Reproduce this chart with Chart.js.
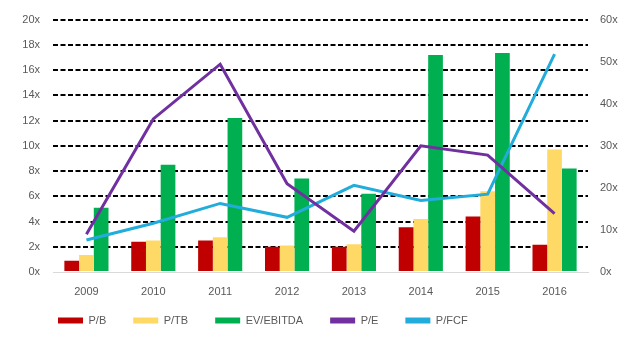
<!DOCTYPE html>
<html>
<head>
<meta charset="utf-8">
<script src="https://cdn.jsdelivr.net/npm/chart.js@4"></script>
<style>
  html, body { margin: 0; padding: 0; background: #fff; }
  #wrap { width: 640px; height: 345px; }
</style>
</head>
<body>
<div id="wrap"><canvas id="chart" width="640" height="345"></canvas></div>
<script>
const years = ['2009', '2010', '2011', '2012', '2013', '2014', '2015', '2016'];
const pb = [0.9, 2.4, 2.5, 2.0, 2.0, 3.55, 4.4, 2.15];
const ptb = [1.35, 2.5, 2.75, 2.1, 2.2, 4.2, 6.4, 9.7];
const evEbitda = [5.1, 8.5, 12.2, 7.4, 6.2, 17.2, 17.35, 8.2];
const pe = [9.0, 36.4, 49.4, 21.0, 9.7, 30.0, 27.8, 13.9];
const pfcf = [7.6, 11.6, 16.3, 13.0, 20.6, 17.0, 18.5, 51.8];

const gray = '#595959';
const tickFont = { family: 'Liberation Sans', size: 11 };

// put the legend row where the original has it (left-shifted, close under the axis)
const legendShift = {
    id: 'legendShift',
    afterLayout(chart) {
        const lg = chart.legend;
        lg.left = 31;
        lg.top = 288;
        lg.bottom = lg.top + lg.height;
    }
};

new Chart(document.getElementById('chart').getContext('2d'), {
    type: 'bar',
    data: {
        labels: years,
        datasets: [
            { label: 'P/B', data: pb, backgroundColor: '#C00000', yAxisID: 'y', order: 1 },
            { label: 'P/TB', data: ptb, backgroundColor: '#FFD966', yAxisID: 'y', order: 1 },
            { label: 'EV/EBITDA', data: evEbitda, backgroundColor: '#00B050', yAxisID: 'y', order: 1 },
            {
                type: 'line', label: 'P/E', data: pe, yAxisID: 'y1', order: 0,
                borderColor: '#7030A0', backgroundColor: '#7030A0',
                borderWidth: 3, pointRadius: 0, tension: 0, fill: false
            },
            {
                type: 'line', label: 'P/FCF', data: pfcf, yAxisID: 'y1', order: 0,
                borderColor: '#22ACDB', backgroundColor: '#22ACDB',
                borderWidth: 3, pointRadius: 0, tension: 0, fill: false
            }
        ]
    },
    options: {
        responsive: false,
        animation: false,
        layout: { padding: { top: 17, left: 0, right: 0, bottom: -2 } },
        datasets: {
            bar: { categoryPercentage: 0.66, barPercentage: 1.0 }
        },
        plugins: {
            tooltip: { enabled: false },
            legend: {
                position: 'bottom',
                align: 'start',
                labels: {
                    color: gray,
                    font: tickFont,
                    boxWidth: 25,
                    boxHeight: 6,
                    padding: 27,
                    sort: (a, b) => a.datasetIndex - b.datasetIndex,
                    generateLabels(chart) {
                        const items = Chart.defaults.plugins.legend.labels.generateLabels(chart);
                        items.forEach(it => { it.lineWidth = 0; });
                        return items;
                    }
                }
            }
        },
        scales: {
            x: {
                grid: { display: false, drawTicks: false },
                border: { display: true, color: '#D9D9D9', width: 1 },
                ticks: { color: gray, font: tickFont, padding: 13 },
                afterFit(scale) { scale.height = 27; }
            },
            y: {
                position: 'left',
                min: 0, max: 20,
                ticks: { stepSize: 2, color: gray, font: tickFont, padding: 13, callback: v => v + 'x' },
                grid: {
                    drawTicks: false,
                    color: ctx => ctx.tick && ctx.tick.value === 0 ? 'rgba(0,0,0,0)' : '#000',
                    lineWidth: 2
                },
                border: { display: false, dash: [5, 2.5] },
                afterFit(scale) { scale.width = 53; }
            },
            y1: {
                position: 'right',
                min: 0, max: 60,
                ticks: { stepSize: 10, color: gray, font: tickFont, padding: 12, callback: v => v + 'x' },
                grid: { display: false, drawTicks: false },
                border: { display: false },
                afterFit(scale) { scale.width = 52; }
            }
        }
    },
    plugins: [legendShift]
});
</script>
</body>
</html>
